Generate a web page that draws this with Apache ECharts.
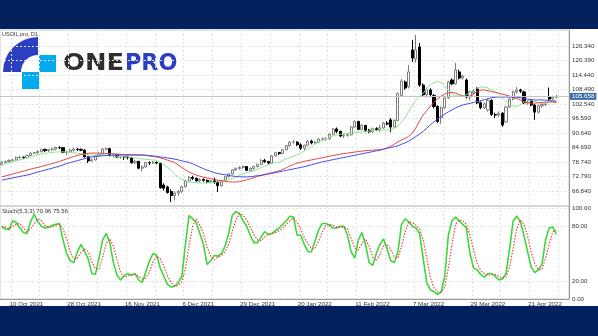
<!DOCTYPE html>
<html><head><meta charset="utf-8">
<script src="https://cdn.jsdelivr.net/npm/echarts@6.0.0/dist/echarts.min.js"></script>
<style>html,body{margin:0;padding:0;background:#fff}#c{width:598px;height:336px}</style>
</head><body><div id="c"></div>
<script>
// ---- data ----
const slotCount = 158;
const opens = [77.6,78.6,78.9,79.4,79.6,80.6,80.7,80.5,81.4,82.4,82.5,83.0,83.9,83.4,83.8,84.0,84.7,84.6,82.7,82.8,83.6,84.0,83.9,83.6,80.9,79.2,79.6,81.3,82.0,84.0,84.2,81.4,81.6,80.8,80.9,80.8,80.6,78.4,79.0,76.2,76.7,78.5,78.4,78.6,78.3,69.3,68.5,66.6,65.0,66.0,66.6,68.6,71.0,72.4,72.0,71.0,71.6,71.2,70.6,71.0,70.5,69.0,71.2,72.7,73.8,75.5,76.0,76.5,76.9,75.3,76.1,76.9,77.8,79.4,78.9,78.3,81.2,82.6,82.2,83.8,85.4,86.9,86.9,85.8,84.4,85.6,87.3,86.6,86.8,88.1,88.2,88.3,90.2,92.3,91.3,89.4,89.7,89.9,93.1,95.4,92.1,93.7,91.8,91.1,92.4,92.1,92.7,94.7,96.0,93.1,95.8,106.0,111.6,109.6,124.7,121.0,125.9,110.3,106.3,108.3,106.0,101.5,96.8,101.0,105.0,112.4,110.8,115.7,113.2,112.4,105.4,107.0,108.7,103.0,101.0,100.0,104.0,98.2,98.0,98.8,95.2,101.3,104.6,107.5,108.3,107.5,103.0,104.2,102.1,99.2,101.8,102.3,105.4,104.6,105.3];
const closes = [78.6,78.9,79.4,79.6,80.6,80.7,80.5,81.4,82.4,82.5,83.0,83.9,83.4,83.8,84.0,84.7,84.6,82.7,82.8,83.6,84.0,83.9,83.6,80.9,79.2,79.6,81.3,82.0,84.0,84.2,81.4,81.6,80.8,80.9,80.8,80.6,78.4,79.0,76.2,76.7,78.5,78.4,78.6,78.3,68.2,68.0,66.2,65.0,66.0,66.6,68.6,71.0,72.4,72.0,71.0,71.6,71.2,70.6,71.0,70.4,69.0,71.2,72.7,73.8,75.5,76.0,76.5,76.9,75.3,76.1,76.9,77.8,79.4,78.9,78.3,81.2,82.6,82.2,83.8,85.4,86.9,86.9,85.8,84.4,85.6,87.3,86.6,86.8,88.1,88.2,88.3,90.2,92.3,91.3,89.4,89.7,89.9,93.1,95.4,92.1,93.7,91.8,91.1,92.4,92.1,92.8,94.7,94.3,93.1,95.8,106.8,112.0,109.1,115.7,121.4,124.7,110.3,106.3,108.3,106.4,101.5,95.4,101.0,105.0,111.6,110.8,116.5,113.2,114.0,105.4,107.5,107.8,103.0,101.0,102.6,104.0,98.2,98.0,98.6,93.9,101.3,104.6,107.5,108.3,107.8,103.0,103.4,102.1,99.2,101.8,102.3,102.5,104.6,105.3,105.658];
const lows = [77.3,78.2,78.6,79.2,79.3,80.0,79.9,80.3,81.2,82.1,81.9,82.6,82.9,82.9,83.3,83.5,84.0,82.3,81.6,82.5,83.0,83.3,83.2,80.5,78.3,78.8,79.4,80.9,81.8,83.4,81.0,80.6,80.5,80.1,79.6,79.8,78.1,77.8,75.8,74.9,76.4,77.5,77.9,77.8,67.8,67.0,65.8,62.3,63.0,64.8,66.0,68.2,70.6,71.4,70.6,70.4,70.6,70.0,70.0,69.8,66.4,68.6,70.9,72.3,73.5,75.0,75.6,76.0,75.0,74.9,75.6,76.5,77.4,78.4,77.8,78.0,81.0,81.6,82.0,83.5,85.0,86.2,85.3,83.7,83.3,85.2,86.0,86.2,86.4,87.5,87.4,87.8,89.8,90.6,88.9,88.5,89.1,89.6,92.7,91.8,91.7,91.0,90.6,90.8,91.4,91.0,92.3,93.8,91.0,92.8,95.5,105.4,108.4,109.0,119.8,119.5,109.5,105.5,105.2,105.3,100.7,94.8,94.4,100.5,104.6,110.2,110.5,112.6,112.5,104.8,104.0,106.4,102.5,100.4,100.5,99.4,97.7,96.8,97.2,93.2,94.8,100.8,104.0,106.8,107.1,102.5,102.2,101.6,96.0,98.6,101.0,101.7,104.0,104.1,104.8];
const highs = [79.0,79.3,79.8,80.0,81.0,81.3,81.0,81.7,82.7,82.9,83.6,84.1,84.2,84.1,84.6,85.0,85.2,84.9,83.4,84.0,84.5,84.5,84.3,83.9,81.2,80.2,81.6,82.6,84.5,84.7,84.6,82.2,82.0,81.4,81.2,81.3,80.9,79.6,79.2,77.4,78.9,79.0,79.2,78.9,78.6,70.0,69.0,67.5,66.8,67.3,69.0,71.4,73.0,73.1,72.4,72.1,72.0,71.6,71.5,72.3,71.0,71.5,73.0,74.1,75.8,76.5,77.0,77.3,77.0,76.5,77.2,78.0,79.9,80.0,79.2,81.5,82.9,82.9,84.1,85.7,87.3,87.8,87.2,86.4,85.9,87.7,87.9,87.4,88.5,88.8,88.9,90.5,92.6,92.9,91.6,90.3,90.7,93.4,95.8,95.6,94.3,94.0,92.3,92.9,93.0,94.0,95.2,95.5,96.8,96.2,107.3,112.8,112.2,118.5,128.8,130.9,127.6,111.0,109.3,109.0,106.6,102.0,101.6,105.6,112.0,113.0,119.4,116.6,114.6,112.9,108.0,108.6,109.5,103.6,103.2,104.8,104.5,99.0,99.5,99.2,101.8,105.1,108.0,109.5,108.8,108.0,104.0,104.6,102.5,102.3,103.0,103.2,109.3,105.9,106.2];
const maFast = [77.5,78.0,78.4,78.8,79.2,79.6,80.0,80.4,80.8,81.3,81.7,82.0,82.3,82.5,82.7,82.8,82.9,82.9,82.8,82.7,82.5,82.3,82.1,81.9,81.7,81.6,81.6,81.6,81.6,81.6,81.5,81.3,81.1,81.0,80.9,80.8,80.6,80.4,80.2,80.0,79.8,79.7,79.6,79.3,78.6,77.6,76.6,75.3,73.8,72.5,71.5,70.9,70.5,70.3,70.2,70.1,70.1,70.1,70.2,70.4,70.6,70.9,71.2,71.6,72.0,72.6,73.3,74.0,74.4,74.7,75.2,75.8,76.4,77.0,77.6,78.1,78.5,78.7,79.3,80.0,80.6,81.2,81.6,82.4,83.3,84.2,85.1,86.0,86.8,87.6,88.3,88.9,89.5,89.8,90.1,90.3,90.5,90.7,90.9,91.0,91.1,91.2,91.4,91.5,91.6,91.7,91.8,91.9,92.0,92.5,93.5,95.0,97.0,99.5,102.0,104.0,105.5,107.0,108.8,110.5,111.4,111.7,111.4,110.0,108.0,106.6,106.0,105.8,105.8,106.3,107.3,108.3,109.2,109.5,109.4,109.1,108.4,107.5,106.5,105.0,103.5,102.3,101.6,101.5,102.2,103.3,104.0,104.0,103.6,103.2,102.8,102.8,103.2,103.8,104.2];
const maMid = [72.7,73.0,73.4,73.8,74.2,74.6,75.0,75.4,75.8,76.2,76.5,76.9,77.3,77.7,78.1,78.5,79.0,79.5,80.0,80.5,81.0,81.4,81.8,82.1,82.3,82.4,82.4,82.4,82.3,82.2,82.2,82.1,82.0,81.9,81.8,81.8,81.7,81.7,81.6,81.6,81.4,81.2,81.0,80.8,80.4,80.0,79.5,79.0,78.5,77.5,76.5,75.5,74.6,74.0,73.4,72.9,72.5,72.2,71.9,71.6,71.3,71.0,70.8,70.6,70.5,70.5,70.7,71.0,71.4,71.8,72.3,72.8,73.2,73.6,74.0,74.4,74.7,75.1,75.7,76.4,77.1,77.7,78.3,78.6,79.0,79.3,79.6,79.9,80.2,80.5,80.8,81.1,81.4,81.7,82.0,82.2,82.4,82.6,82.8,83.0,83.2,83.4,83.5,83.6,83.7,83.8,84.0,84.5,85.2,86.0,87.0,87.8,88.4,89.3,90.5,92.8,95.5,98.0,99.8,101.6,103.2,104.6,105.8,106.6,107.2,107.3,107.0,106.4,105.8,105.5,105.8,106.6,107.6,108.2,108.3,108.0,107.6,107.3,107.0,106.6,106.2,105.8,105.3,104.8,104.2,103.6,103.1,102.9,102.9,103.0,103.2,103.3,103.4,103.3,103.1];
const maSlow = [71.3,71.6,71.9,72.2,72.5,72.8,73.1,73.4,73.7,74.2,74.6,75.0,75.4,75.8,76.2,76.6,77.0,77.5,78.1,78.5,78.9,79.3,79.7,80.1,80.5,80.8,81.0,81.2,81.3,81.4,81.5,81.5,81.6,81.6,81.6,81.6,81.6,81.6,81.6,81.6,81.5,81.4,81.2,81.0,80.8,80.6,80.4,80.2,79.9,79.6,79.2,78.9,78.6,78.0,77.3,76.6,76.0,75.4,74.9,74.4,74.0,73.7,73.5,73.2,73.0,72.8,72.7,72.6,72.6,72.7,72.9,73.1,73.3,73.5,73.8,74.1,74.4,74.7,75.0,75.3,75.6,75.9,76.2,76.5,76.8,77.2,77.6,78.0,78.4,78.8,79.1,79.4,79.7,80.0,80.3,80.6,80.9,81.2,81.5,81.8,82.1,82.4,82.7,83.0,83.3,83.6,84.0,84.4,84.7,85.0,85.4,86.0,86.6,87.3,88.2,89.2,90.2,91.3,92.6,94.0,95.2,96.3,97.4,98.4,99.3,100.1,100.9,101.6,102.1,102.5,102.8,103.2,103.5,103.9,104.3,104.7,105.1,105.3,105.4,105.4,105.4,105.4,105.4,105.3,105.1,104.8,104.5,104.3,104.2,104.2,104.2,104.1,104.0,103.8,103.6];
const stochMain = [79,77,76,86,84,78,73,72,85,93,85,80,78,79,81,82,83,65,50,42,40,52,60,52,44,28,27,45,65,72,62,40,26,21,26,28,26,28,21,18,30,42,50,48,34,25,16,13,14,18,25,60,92,88,84,72,60,38,42,48,47,50,58,72,92,96,94,86,80,70,62,62,68,74,71,72,75,78,82,86,91,90,70,70,60,52,52,64,76,83,83,81,78,78,80,80,70,52,45,65,73,60,40,37,50,60,66,55,42,40,52,82,88,85,80,78,72,45,18,10,8,5,8,25,70,86,90,86,82,78,50,34,32,27,24,28,28,25,21,22,28,55,86,91,85,70,52,35,29,32,38,65,78,79,70.96];
const stochSignal = [80,79,77,80,82,83,78,74,77,83,88,86,81,79,79,81,82,77,66,52,44,45,51,55,52,41,33,33,46,61,66,58,43,29,24,25,27,27,25,22,23,30,41,47,44,36,25,18,14,15,19,34,59,80,88,81,72,57,47,43,46,48,52,60,74,87,94,92,87,79,71,65,64,68,71,72,73,75,78,82,86,89,84,77,67,61,55,56,64,74,81,82,81,79,79,79,77,67,56,54,61,66,58,46,42,49,59,60,54,46,45,58,74,85,84,81,77,65,45,24,12,8,7,13,34,60,82,87,86,82,70,54,39,31,28,26,27,27,25,23,24,35,56,77,87,82,69,52,39,32,33,45,60,74,75.56];
const priceTicks = [66.84,72.79,78.74,84.69,90.64,96.59,102.54,108.49,114.44,120.39,126.34];
const stochTicks = [0,20,80,100];
const dateTicks = {3:'10 Oct 2021',19:'28 Oct 2021',35:'16 Nov 2021',51:'6 Dec 2021',67:'29 Dec 2021',83:'20 Jan 2022',99:'11 Feb 2022',115:'7 Mar 2022',131:'29 Mar 2022',147:'21 Apr 2022'};
const currentPrice = 105.658;
const symbolTitle = 'USOIL.pro, D1';
const stochTitle = 'Stoch(5,3,3) 70.96 75.56';

// ---- build ----
const categories = Array.from({length: slotCount}, (_, i) => String(i));
const candles = opens.map((o, i) => [o, closes[i], lows[i], highs[i]]);
const chart = echarts.init(document.getElementById('c'), null, {renderer: 'canvas'});
const gridLineStyle = {color: '#e2e2e2', type: [2, 2], width: 1};
const smallFont = {fontFamily: 'Liberation Sans, Arial, sans-serif', fontSize: 6.2, color: '#333'};

chart.setOption({
  animation: false,
  backgroundColor: '#ffffff',
  grid: [
    {left: 0, right: 29, top: 30, height: 176, show: true, borderColor: '#c8c8c8', borderWidth: 1, backgroundColor: 'transparent'},
    {left: 0, right: 29, top: 206, height: 93, show: true, borderColor: '#c8c8c8', borderWidth: 1, backgroundColor: 'transparent'}
  ],
  xAxis: [
    {type: 'category', gridIndex: 0, data: categories, boundaryGap: true,
     axisLine: {show: false}, axisTick: {show: false}, axisLabel: {show: false},
     splitLine: {show: true, interval: (i) => (i - 3) % 8 === 0, lineStyle: gridLineStyle}},
    {type: 'category', gridIndex: 1, data: categories, boundaryGap: true,
     axisLine: {show: true, lineStyle: {color: '#999', width: 1}}, axisTick: {show: false},
     axisLabel: Object.assign({show: true, interval: (i) => dateTicks[i] !== undefined,
       formatter: (v, i) => dateTicks[Number(v)] || '', align: 'left', margin: 2, padding: [0, 0, 0, -3]}, smallFont),
     splitLine: {show: true, interval: (i) => (i - 3) % 8 === 0, lineStyle: gridLineStyle}}
  ],
  yAxis: [
    {type: 'value', gridIndex: 0, position: 'right', min: 60.68, max: 132.9, scale: true,
     axisLine: {show: true, lineStyle: {color: '#999', width: 1}},
     axisTick: {show: false, customValues: priceTicks},
     axisLabel: Object.assign({show: true, customValues: priceTicks, margin: 3,
       formatter: (v) => v.toFixed(3)}, smallFont),
     splitLine: {show: true, lineStyle: gridLineStyle}},
    {type: 'value', gridIndex: 1, position: 'right', min: 0, max: 102.2,
     axisLine: {show: true, lineStyle: {color: '#999', width: 1}},
     axisTick: {show: false, customValues: stochTicks},
     axisLabel: Object.assign({show: true, customValues: stochTicks, margin: 3,
       formatter: (v) => v.toFixed(2)}, smallFont),
     splitLine: {show: true, lineStyle: gridLineStyle}}
  ],
  series: [
    {type: 'candlestick', xAxisIndex: 0, yAxisIndex: 0, data: candles, barWidth: 2.6,
     itemStyle: {color: '#ffffff', color0: '#000000', borderColor: '#7d7d7d', borderColor0: '#000000', borderWidth: 1},
     markLine: {silent: true, symbol: 'none', data: [{yAxis: currentPrice}],
       lineStyle: {color: '#c4c4c4', type: 'solid', width: 1},
       label: {show: true, position: 'end', distance: 1, formatter: currentPrice.toFixed(3),
         backgroundColor: '#3f6ea6', color: '#fff', padding: [1, 2, 0, 2],
         fontFamily: 'Liberation Sans, Arial, sans-serif', fontSize: 6.2}}},
    {type: 'line', xAxisIndex: 0, yAxisIndex: 0, data: maFast, symbol: 'none', lineStyle: {color: '#8ee68e', width: 1}, z: 3},
    {type: 'line', xAxisIndex: 0, yAxisIndex: 0, data: maMid, symbol: 'none', lineStyle: {color: '#e24848', width: 1}, z: 3},
    {type: 'line', xAxisIndex: 0, yAxisIndex: 0, data: maSlow, symbol: 'none', lineStyle: {color: '#4a4ae6', width: 1}, z: 3},
    {type: 'line', xAxisIndex: 1, yAxisIndex: 1, data: stochMain, symbol: 'none', lineStyle: {color: '#3cd83c', width: 1.6}, z: 3},
    {type: 'line', xAxisIndex: 1, yAxisIndex: 1, data: stochSignal, symbol: 'none', lineStyle: {color: '#f04040', width: 1.2, type: [1.5, 1.5]}, z: 4}
  ],
  graphic: [
    {type: 'rect', shape: {x: 0, y: 0, width: 598, height: 29}, style: {fill: '#03215d'}, z: 100},
    {type: 'rect', shape: {x: 0, y: 306, width: 598, height: 30}, style: {fill: '#03215d'}, z: 100},
    {type: 'text', x: 2, y: 31, style: {text: symbolTitle, font: '5.5px Liberation Sans', fill: '#333'}, z: 100},
    {type: 'text', x: 2, y: 208, style: {text: stochTitle, font: '6px Liberation Sans', fill: '#333'}, z: 100},
    {type: 'group', z: 100, children: [
      {type: 'sector', shape: {cx: 38, cy: 72, r: 35, r0: 17, startAngle: Math.PI, endAngle: Math.PI * 1.5, clockwise: true}, style: {fill: '#2b3fc2'}},
      {type: 'rect', shape: {x: 39, y: 55, width: 17, height: 17}, style: {fill: '#02aaf0'}},
      {type: 'rect', shape: {x: 22, y: 72, width: 17, height: 17}, style: {fill: '#02aaf0'}},
      {type: 'text', x: 63, y: 53, scaleX: 1.12, style: {text: 'ONE', font: 'bold 23px DejaVu Sans', fill: '#2e2e2e'}},
      {type: 'text', x: 125, y: 53, scaleX: 0.97, style: {text: 'PRO', font: 'bold 23px DejaVu Sans', fill: '#2b3fc2'}}
    ]}
  ]
});
</script></body></html>
